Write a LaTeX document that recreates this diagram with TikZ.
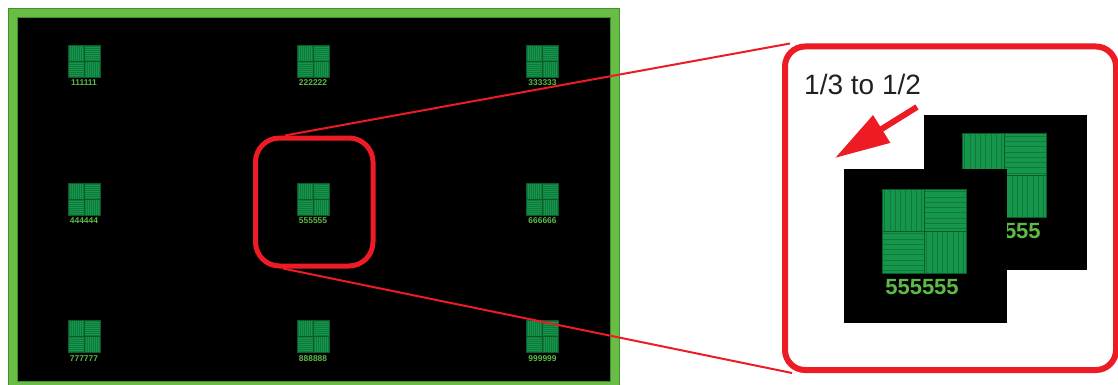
\documentclass[tikz,border=0pt]{standalone}
\usepackage{fontspec}
\setmainfont{Liberation Sans}
\usetikzlibrary{arrows.meta}
\definecolor{FrameGreen}{HTML}{69BD45}
\definecolor{FrameEdge}{HTML}{3F8F33}
\definecolor{TileGreen}{HTML}{15964A}
\definecolor{TileStripe}{HTML}{0E7A3B}
\definecolor{TileDark}{HTML}{0A5A2C}
\definecolor{LabelGreen}{HTML}{5CBB46}
\definecolor{ZoomRed}{HTML}{ED1C24}
\definecolor{TextInk}{HTML}{231F20}

\tikzset{
  tile/.pic={
    \fill[TileGreen] (-16,-16) rectangle (16,16);
    \foreach \s in {-15,-13,...,-1} {
      \draw[TileStripe,line width=0.3pt] (\s,-16) -- (\s,0);
      \draw[TileStripe,line width=0.3pt] (\s+16,0) -- (\s+16,16);
      \draw[TileStripe,line width=0.3pt] (0,\s) -- (16,\s);
      \draw[TileStripe,line width=0.3pt] (-16,\s+16) -- (0,\s+16);
    }
    \draw[TileDark,line width=0.8pt] (-16,-16) rectangle (16,16) (0,-16) -- (0,16) (-16,0) -- (16,0);
  },
  smalllabel/.style={text=LabelGreen,font=\fontsize{8.4}{9}\selectfont\bfseries,inner sep=0pt},
  biglabel/.style={text=LabelGreen,font=\fontsize{22}{24}\selectfont\bfseries,inner sep=0pt},
  redbox/.style={draw=ZoomRed,rounded corners=#1,inner sep=0pt},
}

\begin{document}
\begin{tikzpicture}[x=1pt,y=-1pt]
  \useasboundingbox (0,0) rectangle (1118,385);
  % monitor with the nine tiles
  \draw[FrameGreen,fill=black,line width=9pt] (12.5,12.5) rectangle (614.5,385.5);
  \draw[FrameEdge,line width=0.7pt] (8,8) rectangle (619,390) (17,17) rectangle (610,381);
  \foreach \n/\x/\y in {1/84/61,2/313/61,3/542.5/61,
                        4/84/199,5/313/199,6/542.5/199,
                        7/84/336.5,8/313/336.5,9/542.5/336.5}
  {
    \pic (tile\n) at (\x,\y) {tile};
    \node[smalllabel] (label\n) at (\x,\y+22) {\n\n\n\n\n\n};
  }

  % zoom frames
  \node[redbox=24pt,line width=5pt,minimum width=117.5pt,minimum height=128pt] (focus) at (314.25,202) {};
  \node[redbox=20pt,line width=6pt,minimum width=331pt,minimum height=323.5pt] (zoomview) at (950.5,208.25) {};
  \draw[ZoomRed,line width=2pt] ([xshift=32pt]focus.north west) -- ([xshift=8pt]zoomview.north west);
  \draw[ZoomRed,line width=2pt] ([xshift=30pt]focus.south west) -- ([xshift=10pt]zoomview.south west);

  % two copies of the tile, one behind the other
  \fill[black] (924,115) rectangle (1087,270);
  \pic[scale=2.625] (backtile) at (1004,175.5) {tile};
  \node[biglabel] (backlabel) at (1004,231.5) {555555};
  \fill[black] (844,169) rectangle (1007,323);
  \pic[scale=2.625] (fronttile) at (924,231) {tile};
  \node[biglabel] (frontlabel) at (922,287) {555555};

  \node[anchor=base west,text=TextInk,font=\fontsize{28}{30}\selectfont,inner sep=0pt] (ratio) at (804,95) {1/3 to 1/2};
  \coordinate (arrowtail) at (917,107);
  \coordinate (arrowtip) at (835,158);
  \draw[ZoomRed,line width=6pt,-{Triangle[length=55pt,width=31pt]}] (arrowtail) -- (arrowtip);
\end{tikzpicture}
\end{document}
